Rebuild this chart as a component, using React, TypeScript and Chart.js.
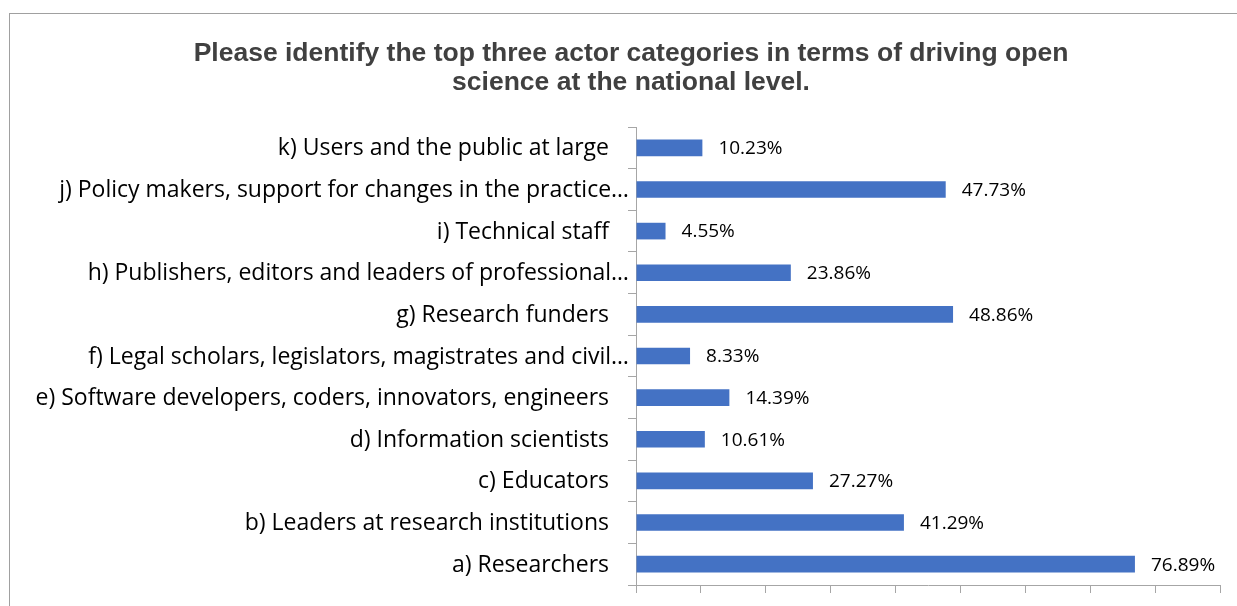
import { useEffect, useRef } from 'react';
import { Chart, registerables } from 'chart.js';

Chart.register(...registerables);

const categories = [
  'a) Researchers',
  'b) Leaders at research institutions',
  'c) Educators',
  'd) Information scientists',
  'e) Software developers, coders, innovators, engineers',
  'f) Legal scholars, legislators, magistrates and civil…',
  'g) Research funders',
  'h) Publishers, editors and leaders of professional…',
  'i) Technical staff',
  'j) Policy makers, support for changes in the practice…',
  'k) Users and the public at large',
];
const truncated = [false, false, false, false, false, true, false, true, false, true, false];
const values = [76.89, 41.29, 27.27, 10.61, 14.39, 8.33, 48.86, 23.86, 4.55, 47.73, 10.23];
const valueLabels = values.map((v) => v.toFixed(2) + '%');
const titleLines = [
  'Please identify the top three actor categories in terms of driving open',
  'science at the national level.',
];
const xMin = 0;
const xMax = 90;
const xStep = 10;

const LABEL_FONT = '23px "Open Sans"';
const VALUE_FONT = '19px "Open Sans"';
const AXIS_COLOR = '#a6a6a6';

const decorPlugin = {
  id: 'decor',
  beforeDraw(chart: any) {
    const ctx = chart.ctx;
    ctx.save();
    ctx.fillStyle = '#ffffff';
    ctx.fillRect(0, 0, chart.width, chart.height);
    ctx.strokeStyle = '#a0a0a0';
    ctx.lineWidth = 1;
    ctx.strokeRect(9.5, 13.5, chart.width + 20, chart.height + 20);
    ctx.restore();
  },
  afterDraw(chart: any) {
    const ctx = chart.ctx;
    const y = chart.scales.y;
    const x = chart.scales.x;
    ctx.save();
    // title
    ctx.fillStyle = '#404040';
    ctx.font = 'bold 26.5px "Liberation Sans", Arial, sans-serif';
    ctx.textAlign = 'center';
    ctx.textBaseline = 'alphabetic';
    titleLines.forEach((line, i) => {
      ctx.fillText(line, 631, 61 + i * 29);
    });
    // category labels
    ctx.fillStyle = '#000000';
    ctx.font = LABEL_FONT;
    ctx.textAlign = 'right';
    ctx.textBaseline = 'middle';
    categories.forEach((c, i) => {
      const py = y.getPixelForValue(i);
      const px = truncated[i] ? y.right - 7 : y.right - 27;
      ctx.fillText(c, px, py + 1);
    });
    // value labels
    ctx.font = VALUE_FONT;
    ctx.textAlign = 'left';
    values.forEach((v, i) => {
      const py = y.getPixelForValue(i);
      const px = x.getPixelForValue(v) + 16;
      ctx.fillText(valueLabels[i], px, py + 1);
    });
    ctx.restore();
  },
};

export default function App() {
  const ref = useRef<HTMLCanvasElement>(null);
  useEffect(() => {
    if (!ref.current) return;
    const chart = new Chart(ref.current, {
      type: 'bar',
      data: {
        labels: categories,
        datasets: [
          {
            data: values,
            backgroundColor: '#4472C4',
            borderWidth: 0,
            barPercentage: 0.4,
            categoryPercentage: 1,
          },
        ],
      },
      options: {
        indexAxis: 'y',
        responsive: false,
        animation: false,
        devicePixelRatio: 1,
        layout: { padding: { top: 127, right: 17, left: 0, bottom: 0 } },
        plugins: {
          legend: { display: false },
          title: { display: false },
          tooltip: { enabled: false },
        },
        scales: {
          x: {
            type: 'linear',
            min: xMin,
            max: xMax,
            ticks: { display: false, stepSize: xStep },
            grid: {
              drawOnChartArea: false,
              drawTicks: true,
              tickLength: 8,
              color: AXIS_COLOR,
            },
            border: { display: true, color: AXIS_COLOR },
            afterFit(s: any) {
              s.height = 21;
            },
          },
          y: {
            type: 'category',
            reverse: true,
            ticks: { display: false },
            grid: {
              offset: true,
              drawOnChartArea: false,
              drawTicks: true,
              tickLength: 8,
              color: AXIS_COLOR,
            },
            border: { display: true, color: AXIS_COLOR },
            afterFit(s: any) {
              s.width = 636;
            },
          },
        },
      },
      plugins: [decorPlugin],
    });
    return () => chart.destroy();
  }, []);
  return (
    <div style={{ position: 'fixed', left: 0, top: 0, width: 1237, height: 606, background: '#fff' }}>
      <canvas ref={ref} width={1237} height={606} style={{ display: 'block' }} />
    </div>
  );
}
